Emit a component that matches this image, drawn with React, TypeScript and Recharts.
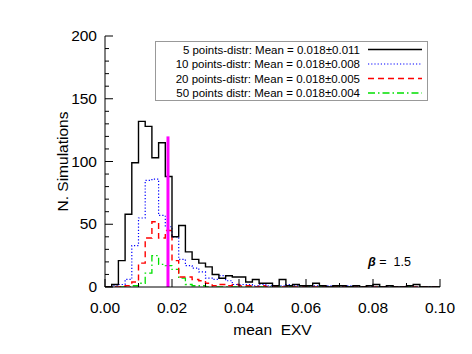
import React from 'react';
import { ComposedChart, Line, XAxis, YAxis } from 'recharts';

const binEdges = [
  0.0, 0.002, 0.004, 0.006, 0.008, 0.01, 0.012, 0.014, 0.016, 0.018,
  0.02, 0.022, 0.024, 0.026, 0.028, 0.03, 0.032, 0.034, 0.036, 0.038,
  0.04, 0.042, 0.044, 0.046, 0.048, 0.05, 0.052, 0.054, 0.056, 0.058,
  0.06, 0.062, 0.064, 0.066, 0.068, 0.07, 0.072, 0.074, 0.076, 0.078,
  0.08, 0.082, 0.084, 0.086, 0.088, 0.09, 0.092, 0.094, 0.096, 0.098, 0.1,
];

const pts5 = [
  0, 2, 21, 58, 99, 132, 128, 103, 115, 88,
  40, 49, 28, 22, 19, 16, 10, 7, 9, 8,
  8, 4, 6, 3, 3, 1, 6, 1, 2, 1,
  1, 3, 1, 0, 1, 1, 0, 1, 0, 1,
  2, 0, 1, 0, 0, 1, 2, 0, 0, 0,
];
const pts10 = [
  0, 1, 2, 6, 33, 55, 85, 86, 57, 48,
  40, 22, 17, 15, 12, 7, 6, 9, 5, 2,
  2, 2, 1, 2, 1, 1, 1, 2, 1, 1,
  0, 1, 0, 1, 1, 0, 1, 0, 0, 0,
  0, 0, 0, 0, 0, 0, 0, 0, 0, 0,
];
const pts20 = [
  0, 0, 0, 1, 4, 19, 39, 52, 39, 45,
  21, 8, 8, 6, 5, 3, 1, 2, 1, 2,
  1, 1, 0, 1, 0, 0, 0, 0, 0, 0,
  0, 0, 0, 0, 0, 0, 0, 0, 0, 0,
  0, 0, 0, 0, 0, 0, 0, 0, 0, 0,
];
const pts50 = [
  0, 0, 0, 0, 1, 3, 11, 25, 18, 17,
  14, 7, 2, 1, 1, 0, 0, 0, 0, 0,
  0, 0, 0, 0, 0, 0, 0, 0, 0, 0,
  0, 0, 0, 0, 0, 0, 0, 0, 0, 0,
  0, 0, 0, 0, 0, 0, 0, 0, 0, 0,
];

const meanX = [0.0188, 0.0188];
const meanY = [0, 120];

const xTicks = [0, 0.01, 0.02, 0.03, 0.04, 0.05, 0.06, 0.07, 0.08, 0.09, 0.1];
const xMajor = [0, 0.02, 0.04, 0.06, 0.08, 0.1];
const yTicks = [0, 10, 20, 30, 40, 50, 60, 70, 80, 90, 100, 110, 120, 130, 140, 150, 160, 170, 180, 190, 200];
const yMajor = [0, 50, 100, 150, 200];

const legendLabels = [
  '5 points-distr: Mean = 0.018±0.011',
  '10 points-distr: Mean = 0.018±0.008',
  '20 points-distr: Mean = 0.018±0.005',
  '50 points distr: Mean = 0.018±0.004',
];
const colors = ['#000000', '#0000ff', '#ff0000', '#00e000'];
const dashes = ['', '1.2 2', '6 4', '7 3 1.5 3'];
const widths = [1.4, 1.2, 1.4, 1.3];

const FONT = '"Liberation Sans", Arial, Helvetica, sans-serif';

const rows = binEdges.map((x, i) => {
  const j = Math.min(i, pts5.length - 1);
  return { x, s5: pts5[j], s10: pts10[j], s20: pts20[j], s50: pts50[j] };
});
const meanData = meanX.map((x, i) => ({ x, m: meanY[i] }));

const isIn = (arr: number[], v: number) => arr.some((a) => Math.abs(a - v) < 1e-9);

const BottomTick = (props: any) => {
  const { x, y, payload } = props;
  const major = isIn(xMajor, payload.value);
  return (
    <g>
      <line x1={x} x2={x} y1={y} y2={y - (major ? 8 : 4)} stroke="#000" strokeWidth={1} />
      {major && (
        <text x={x} y={y + 26} textAnchor="middle" fontSize={15.5} fontFamily={FONT} fill="#000">
          {payload.value.toFixed(2)}
        </text>
      )}
    </g>
  );
};
const TopTick = (props: any) => {
  const { x, y, payload } = props;
  const major = isIn(xMajor, payload.value);
  return <line x1={x} x2={x} y1={y} y2={y + (major ? 8 : 4)} stroke="#000" strokeWidth={1} />;
};
const LeftTick = (props: any) => {
  const { x, y, payload } = props;
  const major = isIn(yMajor, payload.value);
  return (
    <g>
      <line x1={x} x2={x + (major ? 8 : 4)} y1={y} y2={y} stroke="#000" strokeWidth={1} />
      {major && (
        <text x={x - 8} y={y + 5} textAnchor="end" fontSize={15.5} fontFamily={FONT} fill="#000">
          {String(payload.value)}
        </text>
      )}
    </g>
  );
};
const RightTick = (props: any) => {
  const { x, y, payload } = props;
  const major = isIn(yMajor, payload.value);
  return <line x1={x} x2={x - (major ? 8 : 4)} y1={y} y2={y} stroke="#000" strokeWidth={1} />;
};

const YLabel = (props: any) => {
  const vb = props.viewBox || {};
  const cx = vb.x + 17;
  const cy = vb.y + vb.height / 2;
  return (
    <text x={cx} y={cy} transform={`rotate(-90 ${cx} ${cy})`} textAnchor="middle" dominantBaseline="central" fontSize={15.5} fontFamily={FONT} fill="#000">
      N. Simulations
    </text>
  );
};
const XLabel = (props: any) => {
  const vb = props.viewBox || {};
  const cx = vb.x + vb.width / 2;
  return (
    <text x={cx} y={vb.y + 48} textAnchor="middle" fontSize={15.5} fontFamily={FONT} fill="#000">
      {'mean\u00a0\u00a0EXV'}
    </text>
  );
};

export default function App() {
  return (
    <div style={{ position: 'absolute', left: 0, top: 0, width: 472, height: 354, background: '#fff' }}>
      <ComposedChart width={472} height={354} data={rows} margin={{ top: 36, right: 32, left: 45, bottom: 17 }}>
        <XAxis
          xAxisId="bottom"
          dataKey="x"
          type="number"
          domain={[0, 0.1]}
          ticks={xTicks}
          interval={0}
          height={50}
          tickSize={0}
          tickMargin={0}
          tickLine={false}
          axisLine={{ stroke: '#000', strokeWidth: 1 }}
          tick={BottomTick}
          label={<XLabel />}
          allowDataOverflow
        />
        <XAxis
          xAxisId="top"
          orientation="top"
          dataKey="x"
          type="number"
          domain={[0, 0.1]}
          ticks={xTicks}
          interval={0}
          height={0}
          tickSize={0}
          tickMargin={0}
          tickLine={false}
          axisLine={{ stroke: '#000', strokeWidth: 1 }}
          tick={TopTick}
          allowDataOverflow
        />
        <YAxis
          yAxisId="left"
          type="number"
          domain={[0, 200]}
          ticks={yTicks}
          interval={0}
          width={60}
          tickSize={0}
          tickMargin={0}
          tickLine={false}
          axisLine={{ stroke: '#000', strokeWidth: 1 }}
          tick={LeftTick}
          label={<YLabel />}
          allowDataOverflow
        />
        <YAxis
          yAxisId="right"
          orientation="right"
          type="number"
          domain={[0, 200]}
          ticks={yTicks}
          interval={0}
          width={0}
          tickSize={0}
          tickMargin={0}
          tickLine={false}
          axisLine={{ stroke: '#000', strokeWidth: 1 }}
          tick={RightTick}
          allowDataOverflow
        />
        <Line xAxisId="bottom" yAxisId="left" dataKey="s50" type="stepAfter" stroke={colors[3]} strokeWidth={widths[3]} strokeDasharray={dashes[3]} dot={false} isAnimationActive={false} />
        <Line xAxisId="bottom" yAxisId="left" dataKey="s20" type="stepAfter" stroke={colors[2]} strokeWidth={widths[2]} strokeDasharray={dashes[2]} dot={false} isAnimationActive={false} />
        <Line xAxisId="bottom" yAxisId="left" dataKey="s10" type="stepAfter" stroke={colors[1]} strokeWidth={widths[1]} strokeDasharray={dashes[1]} dot={false} isAnimationActive={false} />
        <Line xAxisId="bottom" yAxisId="left" dataKey="s5" type="stepAfter" stroke={colors[0]} strokeWidth={widths[0]} dot={false} isAnimationActive={false} />
        <Line xAxisId="bottom" yAxisId="left" data={meanData} dataKey="m" type="linear" stroke="#ff00ff" strokeWidth={3} dot={false} isAnimationActive={false} />
      </ComposedChart>
      <svg width={472} height={354} style={{ position: 'absolute', left: 0, top: 0, pointerEvents: 'none' }}>
        <rect x={155.5} y={41.5} width={272} height={59} fill="#fff" stroke="#999" strokeWidth={1} />
        {legendLabels.map((t, i) => (
          <g key={t}>
            <text x={360} y={53.5 + i * 14.5} textAnchor="end" fontSize={11.5} fontFamily={FONT} fill="#000">
              {t}
            </text>
            <line x1={368} x2={422} y1={49.5 + i * 14.5} y2={49.5 + i * 14.5} stroke={colors[i]} strokeWidth={widths[i]} strokeDasharray={dashes[i] || undefined} />
          </g>
        ))}
        <text x={368} y={266} fontSize={12.5} fontFamily={FONT} fill="#000">
          <tspan fontWeight="bold" fontStyle="italic">β</tspan>
          <tspan>{'\u00a0=\u00a0\u00a01.5'}</tspan>
        </text>
      </svg>
    </div>
  );
}
